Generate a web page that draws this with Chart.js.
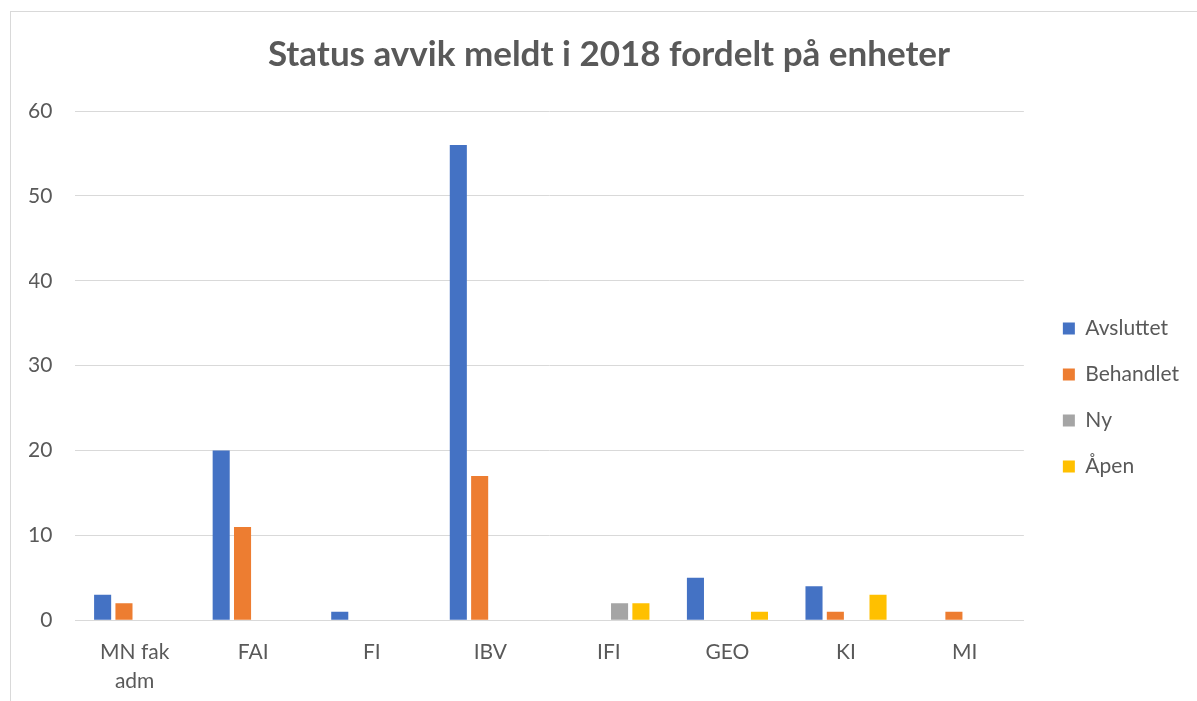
<!DOCTYPE html>
<html>
<head>
<meta charset="utf-8">
<script src="https://cdn.jsdelivr.net/npm/chart.js@4"></script>
<style>
  html, body { margin: 0; padding: 0; background: #fff; overflow: hidden; }
  #frame { position: absolute; left: 10px; top: 11px; width: 1400px; height: 900px; border: 1px solid #d9d9d9; box-sizing: border-box; }
  #wrap { position: absolute; left: 0; top: 0; width: 1197px; height: 701px; }
</style>
</head>
<body>
<div id="frame"></div>
<div id="wrap"><canvas id="c"></canvas></div>
<script>
const categories = [["MN fak", "adm"], "FAI", "FI", "IBV", "IFI", "GEO", "KI", "MI"];
const seriesNames = ["Avsluttet", "Behandlet", "Ny", "Åpen"];
const avsluttet = [3, 20, 1, 56, 0, 5, 4, 0];
const behandlet = [2, 11, 0, 17, 0, 0, 1, 1];
const ny        = [0, 0, 0, 0, 2, 0, 0, 0];
const apen      = [0, 0, 0, 0, 2, 1, 3, 0];
const yTicks = [0, 10, 20, 30, 40, 50, 60];
const colors = ["#4472C4", "#ED7D31", "#A5A5A5", "#FFC000"];
const titleText = "Status avvik meldt i 2018 fordelt på enheter";

const seriesValues = [avsluttet, behandlet, ny, apen];
const textColor = "#595959";
const fontFamily = "Lato, 'Open Sans', sans-serif";

new Chart(document.getElementById("c"), {
  type: "bar",
  data: {
    labels: categories,
    datasets: seriesNames.map((n, i) => ({
      label: n,
      data: seriesValues[i],
      backgroundColor: colors[i],
      borderWidth: 0,
      categoryPercentage: 0.72,
      barPercentage: 0.8
    }))
  },
  options: {
    responsive: true,
    maintainAspectRatio: false,
    animation: false,
    layout: { padding: { left: 29, right: 8, top: 0, bottom: -12 } },
    plugins: {
      title: {
        display: true,
        text: titleText,
        color: textColor,
        font: { family: fontFamily, size: 35, weight: "bold" },
        padding: { top: 34, bottom: 35 }
      },
      legend: {
        position: "right",
        align: "start",
        title: { display: true, text: " ", padding: { top: 281, bottom: 0 }, font: { size: 10 } },
        labels: {
          color: textColor,
          font: { family: fontFamily, size: 21 },
          boxWidth: 12,
          boxHeight: 12,
          padding: 25
        }
      },
      tooltip: { enabled: false }
    },
    scales: {
      x: {
        grid: { display: false, drawTicks: false },
        border: { display: true, color: "#d9d9d9", width: 1 },
        ticks: { color: textColor, font: { family: fontFamily, size: 21, lineHeight: 1.35 }, padding: 18, maxRotation: 0, autoSkip: false }
      },
      y: {
        min: 0,
        max: 60,
        afterBuildTicks: (axis) => { axis.ticks = yTicks.map(v => ({ value: v })); },
        afterFit: (s) => { s.width -= 24; },
        grid: { color: "#d9d9d9", lineWidth: 1, drawTicks: false },
        border: { display: false },
        ticks: { color: textColor, font: { family: fontFamily, size: 21 }, padding: 23 }
      },
      gap: {
        position: "right",
        display: true,
        grid: { display: false, drawTicks: false },
        border: { display: false },
        ticks: { display: false },
        afterFit: (s) => { s.width = 14; }
      }
    }
  }
});
</script>
</body>
</html>
